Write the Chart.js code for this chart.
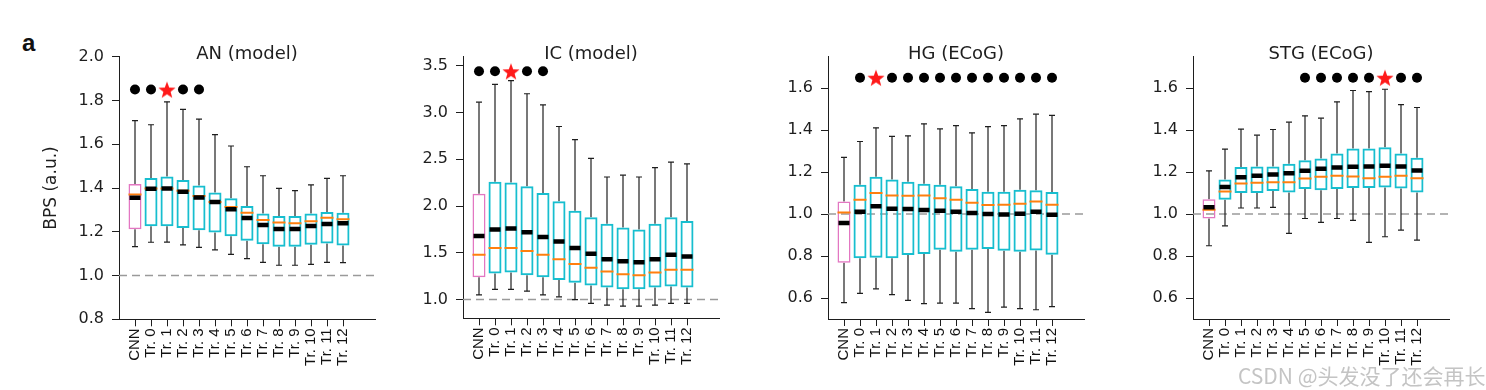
<!DOCTYPE html>
<html>
<head>
<meta charset="utf-8">
<script src="https://cdn.jsdelivr.net/npm/chart.js@4.4.0/dist/chart.umd.min.js"></script>
<style>
    body{margin:0;background:#fff;width:1486px;height:390px;overflow:hidden;position:relative;}
    .panel{position:absolute;top:0;height:390px;}
    #panelLetter{position:absolute;left:22px;top:31px;font:bold 24px "Liberation Sans";line-height:24px;color:#111;}
    #mark{position:absolute;left:1238px;top:360px;font:21px "Noto Sans CJK SC";color:#c4c4c4;white-space:nowrap;}
</style>
</head>
<body>
<div id="panelLetter">a</div>
<div class="panel" style="left:0px;width:395px"><canvas id="anChart"></canvas></div>
<div class="panel" style="left:393px;width:346px"><canvas id="icChart"></canvas></div>
<div class="panel" style="left:758px;width:346px"><canvas id="hgChart"></canvas></div>
<div class="panel" style="left:1123px;width:346px"><canvas id="stgChart"></canvas></div>
<div id="mark">CSDN @头发没了还会再长</div>

<script>
const CATEGORIES = ["CNN","Tr. 0","Tr. 1","Tr. 2","Tr. 3","Tr. 4","Tr. 5","Tr. 6","Tr. 7","Tr. 8","Tr. 9","Tr. 10","Tr. 11","Tr. 12"];

// AN (model)
const AN_HI   = [1.708,1.689,1.794,1.759,1.715,1.644,1.592,1.497,1.456,1.398,1.388,1.414,1.444,1.456];
const AN_Q3   = [1.418,1.446,1.452,1.437,1.411,1.379,1.353,1.318,1.284,1.272,1.272,1.284,1.290,1.287];
const AN_MED  = [1.356,1.397,1.398,1.383,1.357,1.336,1.303,1.263,1.231,1.213,1.213,1.226,1.236,1.239];
const AN_MEAN = [1.370,1.398,1.398,1.388,1.363,1.336,1.313,1.287,1.254,1.242,1.239,1.248,1.264,1.257];
const AN_Q1   = [1.211,1.225,1.225,1.217,1.207,1.197,1.179,1.159,1.143,1.131,1.132,1.141,1.146,1.137];
const AN_LO   = [1.132,1.152,1.153,1.140,1.129,1.117,1.097,1.077,1.060,1.047,1.047,1.051,1.060,1.059];
const AN_DOTS = [0,1,3,4];
const AN_STAR = [2];

// IC (model)
const IC_HI   = [3.11,3.30,3.34,3.20,3.08,2.85,2.71,2.51,2.31,2.33,2.31,2.41,2.47,2.45];
const IC_Q3   = [2.13,2.26,2.25,2.21,2.14,2.05,1.95,1.88,1.81,1.77,1.75,1.81,1.88,1.84];
const IC_MED  = [1.68,1.75,1.76,1.72,1.67,1.62,1.55,1.49,1.43,1.41,1.40,1.43,1.48,1.46];
const IC_MEAN = [1.48,1.55,1.55,1.52,1.48,1.43,1.38,1.34,1.30,1.27,1.26,1.29,1.32,1.32];
const IC_Q1   = [1.24,1.28,1.29,1.26,1.24,1.21,1.18,1.15,1.13,1.11,1.11,1.13,1.14,1.13];
const IC_LO   = [1.05,1.11,1.11,1.09,1.05,1.03,1.00,0.96,0.94,0.93,0.93,0.94,0.96,0.96];
const IC_DOTS = [0,1,3,4];
const IC_STAR = [2];

// HG (ECoG)
const HG_HI   = [1.270,1.346,1.411,1.370,1.373,1.430,1.406,1.422,1.387,1.417,1.422,1.454,1.476,1.470];
const HG_Q3   = [1.060,1.140,1.178,1.165,1.154,1.144,1.140,1.133,1.119,1.106,1.106,1.116,1.113,1.105];
const HG_MED  = [0.957,1.011,1.037,1.025,1.024,1.019,1.016,1.011,1.005,1.000,0.998,1.002,1.011,0.997];
const HG_MEAN = [1.008,1.068,1.100,1.089,1.087,1.089,1.076,1.068,1.054,1.043,1.044,1.049,1.060,1.044];
const HG_Q1   = [0.768,0.790,0.792,0.790,0.805,0.810,0.830,0.821,0.830,0.833,0.825,0.821,0.827,0.806];
const HG_LO   = [0.578,0.622,0.644,0.616,0.589,0.573,0.576,0.576,0.549,0.532,0.557,0.549,0.544,0.559];
const HG_DOTS = [1,3,4,5,6,7,8,9,10,11,12,13];
const HG_STAR = [2];

// STG (ECoG)
const STG_HI   = [1.206,1.310,1.405,1.376,1.403,1.438,1.468,1.457,1.535,1.589,1.584,1.595,1.522,1.508];
const STG_Q3   = [1.071,1.165,1.224,1.227,1.227,1.240,1.257,1.265,1.289,1.313,1.313,1.319,1.289,1.268];
const STG_MED  = [1.032,1.129,1.176,1.183,1.189,1.195,1.206,1.216,1.222,1.225,1.227,1.230,1.227,1.208];
const STG_MEAN = [1.021,1.108,1.146,1.149,1.152,1.152,1.170,1.178,1.183,1.179,1.171,1.178,1.183,1.171];
const STG_Q1   = [0.979,1.068,1.100,1.100,1.110,1.103,1.119,1.113,1.119,1.124,1.124,1.127,1.122,1.103];
const STG_LO   = [0.849,0.944,1.029,1.029,1.032,0.908,0.979,0.960,0.979,0.970,0.865,0.892,0.924,0.876];
const STG_DOTS = [6,7,8,9,10,12,13];
const STG_STAR = [11];

const PINK = "#e377c2";
const CYAN = "#17becf";
const ORANGE = "#ff7f0e";
const INK = "#1e1e1e";

// filled red star used as a point style
function starImage(r, color){
    const size = Math.ceil(r*2+2);
    const c = document.createElement("canvas");
    c.width = size; c.height = size;
    const g = c.getContext("2d");
    g.beginPath();
    for(let k=0;k<10;k++){
        const rad = k%2===0 ? r : r*0.42;
        const a = -Math.PI/2 + k*Math.PI/5;
        g.lineTo(size/2 + rad*Math.cos(a), size/2 + 1 + rad*Math.sin(a));
    }
    g.closePath();
    g.fillStyle = color;
    g.fill();
    return c;
}
const STAR = starImage(9, "#ff1a1a");

const refLine = {
    id: "refLine",
    beforeDatasetsDraw(chart){
        const {ctx, chartArea, scales} = chart;
        const py = scales.y.getPixelForValue(1.0);
        ctx.save();
        ctx.strokeStyle = "#9a9a9a";
        ctx.lineWidth = 1.5;
        ctx.setLineDash([8,5]);
        ctx.beginPath();
        ctx.moveTo(chartArea.left, py);
        ctx.lineTo(chartArea.right, py);
        ctx.stroke();
        ctx.restore();
    }
};

const panelTitle = {
    id: "panelTitle",
    afterDraw(chart, args, opts){
        const {ctx, chartArea} = chart;
        ctx.save();
        ctx.font = '18px "DejaVu Sans"';
        ctx.fillStyle = INK;
        ctx.textAlign = "center";
        ctx.textBaseline = "alphabetic";
        ctx.fillText(opts.text, (chartArea.left+chartArea.right)/2, opts.baseline);
        ctx.restore();
    }
};

function makePanel(id, p){
    const pts = (arr) => arr.map((v,i) => ({x:i, y:v}));
    const rng = (a,b) => a.map((v,i) => ({x:i, y:[v,b[i]]}));
    const at = (idx, level) => idx.map(i => ({x:i, y:level}));

    return new Chart(document.getElementById(id), {
        type: "bar",
        data: {
            datasets: [
                {
                    type: "scatter", label: "star", data: at(p.star, p.sigLevel),
                    pointStyle: STAR, pointRadius: 8, order: 0
                },
                {
                    type: "scatter", label: "sig", data: at(p.dots, p.sigLevel),
                    pointStyle: "circle", pointRadius: 5, pointBorderWidth: 0,
                    pointBackgroundColor: "#000", order: 0
                },
                {
                    type: "scatter", label: "median", data: pts(p.med),
                    pointStyle: "line", pointRadius: 5.5, pointBorderWidth: 4.5,
                    borderColor: "#000", pointBorderColor: "#000", order: 1
                },
                {
                    type: "scatter", label: "mean", data: pts(p.mean),
                    pointStyle: "line", pointRadius: 6.5, pointBorderWidth: 2,
                    borderColor: ORANGE, pointBorderColor: ORANGE, order: 2
                },
                {
                    type: "scatter", label: "caps", data: pts(p.lo).concat(pts(p.hi)),
                    pointStyle: "line", pointRadius: 3, pointBorderWidth: 1.2,
                    borderColor: INK, pointBorderColor: INK, order: 3
                },
                {
                    type: "bar", label: "box", data: rng(p.q1, p.q3),
                    backgroundColor: "rgba(0,0,0,0)",
                    borderColor: CATEGORIES.map((c,i) => i===0 ? PINK : CYAN),
                    borderWidth: CATEGORIES.map((c,i) => i===0 ? 1.5 : 2),
                    borderSkipped: false, barThickness: 13, grouped: false,
                    inflateAmount: 0, order: 4
                },
                {
                    type: "bar", label: "lowWhisker", data: rng(p.lo, p.q1),
                    backgroundColor: INK, barThickness: 1.2, grouped: false,
                    inflateAmount: 0, order: 5
                },
                {
                    type: "bar", label: "highWhisker", data: rng(p.q3, p.hi),
                    backgroundColor: INK, barThickness: 1.2, grouped: false,
                    inflateAmount: 0, order: 5
                }
            ]
        },
        options: {
            responsive: true,
            maintainAspectRatio: false,
            animation: false,
            layout: {padding: {top: p.top, right: 20, bottom: 0, left: 0}},
            plugins: {
                legend: {display: false},
                tooltip: {enabled: false},
                panelTitle: {text: p.title, baseline: 59}
            },
            scales: {
                x: {
                    type: "linear",
                    min: -1, max: 15,
                    offset: false,
                    afterBuildTicks: s => { s.ticks = CATEGORIES.map((c,i) => ({value:i})); },
                    afterFit: s => { s.height = p.xHeight; },
                    grid: {drawOnChartArea: false, drawTicks: true, tickLength: 7, color: INK, offset: false},
                    border: {display: true, color: INK, width: 1},
                    ticks: {
                        autoSkip: false, minRotation: 90, maxRotation: 90, padding: 2,
                        color: "#111", font: {family: "Liberation Sans", size: 15},
                        callback: v => CATEGORIES[v]
                    }
                },
                y: {
                    type: "linear",
                    min: p.yMin, max: p.yMax,
                    afterBuildTicks: s => { s.ticks = p.yTicks.map(v => ({value:v})); },
                    afterFit: s => { s.width = p.yWidth; },
                    grid: {drawOnChartArea: false, drawTicks: true, tickLength: 7, color: INK},
                    border: {display: true, color: INK, width: 1},
                    ticks: {
                        padding: 8, color: INK,
                        font: {family: "DejaVu Sans", size: 16},
                        callback: v => v.toFixed(1)
                    },
                    title: {
                        display: !!p.yTitle, text: p.yTitle || "", color: INK,
                        font: {family: "DejaVu Sans", size: 17},
                        padding: {top: 41, bottom: 0}
                    }
                }
            }
        },
        plugins: [refLine, panelTitle]
    });
}

makePanel("anChart", {
    title: "AN (model)", yTitle: "BPS (a.u.)",
    hi: AN_HI, q3: AN_Q3, med: AN_MED, mean: AN_MEAN, q1: AN_Q1, lo: AN_LO,
    dots: AN_DOTS, star: AN_STAR, sigLevel: 1.85,
    yMin: 0.8, yMax: 2.0, yTicks: [0.8,1.0,1.2,1.4,1.6,1.8,2.0],
    yWidth: 119, top: 56.7, xHeight: 70.7
});

makePanel("icChart", {
    title: "IC (model)",
    hi: IC_HI, q3: IC_Q3, med: IC_MED, mean: IC_MEAN, q1: IC_Q1, lo: IC_LO,
    dots: IC_DOTS, star: IC_STAR, sigLevel: 3.44,
    yMin: 0.8, yMax: 3.6, yTicks: [1.0,1.5,2.0,2.5,3.0,3.5],
    yWidth: 70, top: 56.3, xHeight: 71.7
});

makePanel("hgChart", {
    title: "HG (ECoG)",
    hi: HG_HI, q3: HG_Q3, med: HG_MED, mean: HG_MEAN, q1: HG_Q1, lo: HG_LO,
    dots: HG_DOTS, star: HG_STAR, sigLevel: 1.65,
    yMin: 0.5, yMax: 1.75, yTicks: [0.6,0.8,1.0,1.2,1.4,1.6],
    yWidth: 70, top: 56.7, xHeight: 71
});

makePanel("stgChart", {
    title: "STG (ECoG)",
    hi: STG_HI, q3: STG_Q3, med: STG_MED, mean: STG_MEAN, q1: STG_Q1, lo: STG_LO,
    dots: STG_DOTS, star: STG_STAR, sigLevel: 1.65,
    yMin: 0.5, yMax: 1.75, yTicks: [0.6,0.8,1.0,1.2,1.4,1.6],
    yWidth: 70, top: 56.7, xHeight: 71
});
</script>
</body>
</html>
